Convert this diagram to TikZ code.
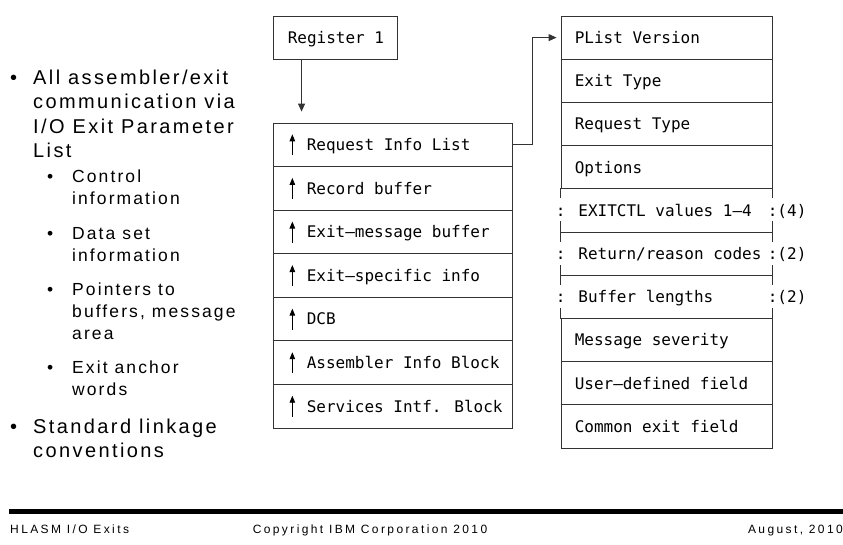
\documentclass[tikz,border=0pt]{standalone}
\usepackage{fontspec}
\usetikzlibrary{arrows.meta,positioning}

\newfontfamily\monofont{DejaVu Sans Mono}
\newfontfamily\bulletfont{Liberation Sans}[LetterSpace=12]
\newfontfamily\footfont{Liberation Sans}[LetterSpace=20]

\tikzset{
	fieldbox/.style={draw=black!80, line width=0.9pt, inner sep=0pt, minimum width=239pt, minimum height=43.57pt},
	plistbox/.style={draw=black!80, line width=0.9pt, inner sep=0pt, minimum width=211pt, minimum height=43.2pt},
	openbox/.style={plistbox, draw=none},
	mono/.style={font=\monofont\fontsize{16}{19}\selectfont, inner sep=0pt, text height=11.7pt, text depth=0pt},
	ptr/.style={-{Triangle[width=7pt,length=8pt]}, line width=0.9pt, draw=black!80},
	uparr/.style={-{Triangle[width=5.5pt,length=7pt]}, line width=0.9pt},
	tick/.style={line width=0.9pt, draw=black!80},
	% base of a multi-line item sits on its last line
	bigitem/.style={font=\bulletfont\fontsize{20}{24.5}\selectfont, inner sep=0pt, anchor=base west, align=left},
	smallitem/.style={font=\bulletfont\fontsize{17.5}{22}\selectfont, inner sep=0pt, anchor=base west, align=left},
	foot/.style={font=\footfont\fontsize{12}{14}\selectfont, inner sep=0pt, anchor=base}
}

\begin{document}
\begin{tikzpicture}[x=1pt, y=-1pt]
	\useasboundingbox (0,0) rectangle (843,544);

	% register and the exit parameter list
	\node[draw=black!80, line width=0.9pt, inner sep=0pt, minimum width=124pt, minimum height=43pt] (reg) at (335,37.5) {};
	\node[mono, anchor=west, right=15pt of reg.west] (regtxt) {Register 1};

	\node[fieldbox] (ra) at (392.5,144.8) {};
	\node[fieldbox] (rb) at (392.5,188.4) {};
	\node[fieldbox] (rc) at (392.5,232) {};
	\node[fieldbox] (rd) at (392.5,275.5) {};
	\node[fieldbox] (re) at (392.5,319.1) {};
	\node[fieldbox] (rf) at (392.5,362.7) {};
	\node[fieldbox] (rg) at (392.5,406.2) {};

	\node[mono, anchor=west, right=34pt of ra.west] (ta) {Request Info List};
	\node[mono, anchor=west, right=34pt of rb.west] (tb) {Record buffer};
	\node[mono, anchor=west, right=34pt of rc.west] (tc) {Exit–message buffer};
	\node[mono, anchor=west, right=34pt of rd.west] (td) {Exit–specific info};
	\node[mono, anchor=west, right=34pt of re.west] (te) {DCB};
	\node[mono, anchor=west, right=34pt of rf.west] (tf) {Assembler Info Block};
	\node[mono, anchor=west, right=34pt of rg.west] (tg) {Services Intf. Block};

	% little pointer marks in front of each field
	\draw[uparr] ([xshift=19.8pt]ra.west) +(0,10.5) -- +(0,-10.5);
	\draw[uparr] ([xshift=19.8pt]rb.west) +(0,10.5) -- +(0,-10.5);
	\draw[uparr] ([xshift=19.8pt]rc.west) +(0,10.5) -- +(0,-10.5);
	\draw[uparr] ([xshift=19.8pt]rd.west) +(0,10.5) -- +(0,-10.5);
	\draw[uparr] ([xshift=19.8pt]re.west) +(0,10.5) -- +(0,-10.5);
	\draw[uparr] ([xshift=19.8pt]rf.west) +(0,10.5) -- +(0,-10.5);
	\draw[uparr] ([xshift=19.8pt]rg.west) +(0,10.5) -- +(0,-10.5);

	% request info list
	\node[plistbox] (p0) at (666.5,37.6) {};
	\node[plistbox] (p1) at (666.5,80.8) {};
	\node[plistbox] (p2) at (666.5,124) {};
	\node[plistbox] (p3) at (666.5,167.2) {};
	\node[openbox] (p4) at (666.5,210.4) {};
	\node[openbox] (p5) at (666.5,253.6) {};
	\node[openbox] (p6) at (666.5,296.8) {};
	\node[plistbox] (p7) at (666.5,340) {};
	\node[plistbox] (p8) at (666.5,383.2) {};
	\node[plistbox] (p9) at (666.5,426.4) {};

	% repeated fields only get short sides
	\draw[tick] (p4.south west) -- (p4.south east);
	\draw[tick] (p5.south west) -- (p5.south east);
	\draw[tick] (p4.north west) -- +(0,10) (p4.north east) -- +(0,10);
	\draw[tick] (p4.south west) -- +(0,-11) (p4.south east) -- +(0,-11);
	\draw[tick] (p5.north west) -- +(0,10) (p5.north east) -- +(0,10);
	\draw[tick] (p5.south west) -- +(0,-11) (p5.south east) -- +(0,-11);
	\draw[tick] (p6.north west) -- +(0,10) (p6.north east) -- +(0,10);
	\draw[tick] (p6.south west) -- +(0,-11) (p6.south east) -- +(0,-11);

	\node[mono, anchor=west, right=14pt of p0.west] (q0) {PList Version};
	\node[mono, anchor=west, right=14pt of p1.west] (q1) {Exit Type};
	\node[mono, anchor=west, right=14pt of p2.west] (q2) {Request Type};
	\node[mono, anchor=west, right=14pt of p3.west] (q3) {Options};
	\node[mono, anchor=west, right=-4.8pt of p4.west] (q4) {: EXITCTL values 1–4};
	\node[mono, anchor=west, right=-4.8pt of p5.west] (q5) {: Return/reason codes};
	\node[mono, anchor=west, right=-4.8pt of p6.west] (q6) {: Buffer lengths};
	\node[mono, anchor=west, right=14pt of p7.west] (q7) {Message severity};
	\node[mono, anchor=west, right=14pt of p8.west] (q8) {User–defined field};
	\node[mono, anchor=west, right=14pt of p9.west] (q9) {Common exit field};

	\node[mono, anchor=west, right=-4.8pt of p4.east] (c4) {:(4)};
	\node[mono, anchor=west, right=-4.8pt of p5.east] (c5) {:(2)};
	\node[mono, anchor=west, right=-4.8pt of p6.east] (c6) {:(2)};

	% pointers
	\draw[ptr] ([xshift=29pt]reg.south west) -- ([xshift=29pt]ra.north west) [shorten >=11pt];
	\draw[ptr, shorten >=4pt] (ra.east) -- ++(20,0) |- (p0.west);

	% bullet list
	\node[bigitem] (d1) at (10,84) {•};
	\node[bigitem] (i1) at (33,157.5) {All assembler/exit\\communication via\\I/O Exit Parameter\\List};
	\node[smallitem] (d2) at (47,182) {•};
	\node[smallitem] (i2) at (72,204) {Control\\information};
	\node[smallitem] (d3) at (47,239) {•};
	\node[smallitem] (i3) at (72,261) {Data set\\information};
	\node[smallitem] (d4) at (47,295) {•};
	\node[smallitem] (i4) at (72,339) {Pointers to\\buffers, message\\area};
	\node[smallitem] (d5) at (47,373) {•};
	\node[smallitem] (i5) at (72,395) {Exit anchor\\words};
	\node[bigitem] (d6) at (10,433) {•};
	\node[bigitem] (i6) at (33,457.5) {Standard linkage\\conventions};

	% footer
	\fill[black] (9,509) rectangle (843,514);
	\node[foot, anchor=base west] (f1) at (10,533) {HLASM I/O Exits};
	\node[foot] (f2) at (370,533) {Copyright IBM Corporation 2010};
	\node[foot, anchor=base east] (f3) at (843,533) {August, 2010};
\end{tikzpicture}
\end{document}
